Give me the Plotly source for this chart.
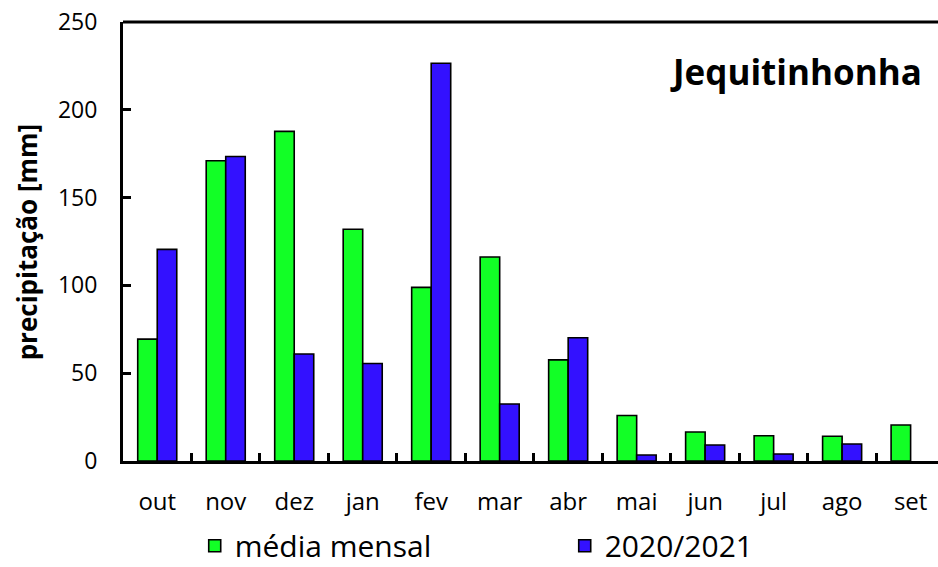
"""Monthly precipitation, Jequitinhonha: long-term mean vs 2020/2021."""

import plotly.graph_objects as go

months = ["out", "nov", "dez", "jan", "fev", "mar", "abr", "mai", "jun", "jul", "ago", "set"]
media_mensal = [69.4, 171.0, 187.7, 132.0, 98.9, 116.2, 57.6, 25.9, 16.5, 14.4, 14.1, 20.5]
season_2020_2021 = [120.5, 173.4, 60.9, 55.5, 226.5, 32.5, 70.2, 3.4, 9.1, 4.0, 9.7, None]

GREEN = "#12FF26"
BLUE = "#3311FF"
FONT = "Open Sans"

fig = go.Figure()
fig.add_trace(
    go.Bar(
        x=months,
        y=media_mensal,
        name="média mensal",
        marker=dict(color=GREEN, line=dict(color="black", width=1.6)),
    )
)
fig.add_trace(
    go.Bar(
        x=months,
        y=season_2020_2021,
        name="2020/2021",
        marker=dict(color=BLUE, line=dict(color="black", width=1.6)),
    )
)

fig.update_layout(
    width=938,
    height=567,
    barmode="group",
    bargap=0.43,
    bargroupgap=0,
    paper_bgcolor="white",
    plot_bgcolor="white",
    font=dict(family=FONT, color="black", size=20),
    margin=dict(l=123, r=0, t=22, b=106, autoexpand=False),
    showlegend=True,
    legend=dict(
        orientation="h",
        x=0.088,
        xanchor="left",
        y=-0.193,
        yanchor="middle",
        font=dict(size=30, family=FONT),
        entrywidth=325,
        itemwidth=30,
        traceorder="normal",
    ),
    annotations=[
        dict(
            text="<b>Jequitinhonha</b>",
            xref="paper",
            yref="paper",
            x=0.983,
            y=0.888,
            xanchor="right",
            yanchor="middle",
            showarrow=False,
            font=dict(size=35, family=FONT),
        ),
        dict(
            text="<b>precipitação [mm]</b>",
            xref="paper",
            yref="paper",
            x=-0.118,
            y=0.5,
            xanchor="center",
            yanchor="middle",
            textangle=-90,
            showarrow=False,
            font=dict(size=26, family=FONT),
        ),
    ],
    shapes=[
        dict(
            type="line",
            xref="paper",
            yref="paper",
            x0=0,
            x1=1,
            y0=1,
            y1=1,
            line=dict(color="black", width=3),
        )
    ],
)

fig.update_xaxes(
    type="category",
    range=[-0.5, 11.4],
    automargin=False,
    showline=True,
    linecolor="black",
    linewidth=3,
    ticks="inside",
    tickson="boundaries",
    ticklen=8,
    tickwidth=3,
    tickcolor="black",
    ticklabelstandoff=17,
    showgrid=False,
    tickfont=dict(size=24, family=FONT),
)
fig.update_yaxes(
    range=[0, 250],
    dtick=50,
    automargin=False,
    showline=True,
    linecolor="black",
    linewidth=3,
    ticks="inside",
    ticklen=8,
    tickwidth=3,
    tickcolor="black",
    ticklabelstandoff=18,
    showgrid=False,
    zeroline=False,
    tickfont=dict(size=23, family=FONT),
)

# the page's default body margin would shift the figure by 8px
fig.write_html(
    "out.html",
    config={"displayModeBar": False},
    post_script="document.body.style.margin = '0px';",
)
